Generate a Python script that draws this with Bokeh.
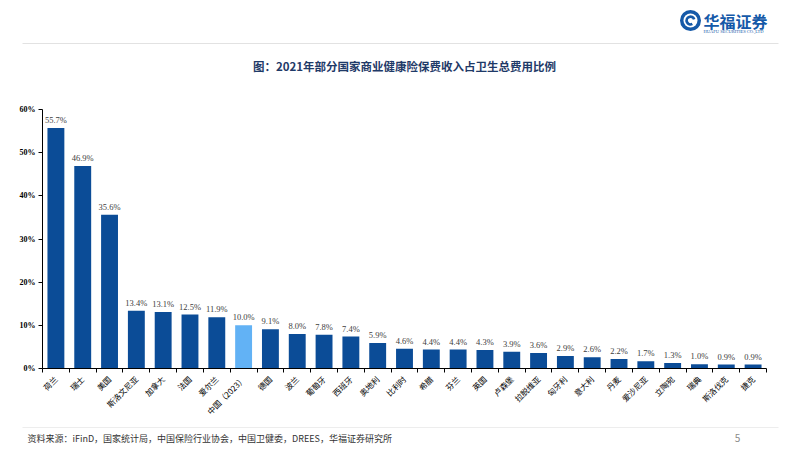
from bokeh.plotting import figure
from bokeh.models import Range1d, FixedTicker, PrintfTickFormatter, ColumnDataSource
from bokeh.core.properties import value
from bokeh.embed import file_html
from bokeh.resources import INLINE

countries = ["荷兰", "瑞士", "美国", "斯洛文尼亚", "加拿大", "法国", "爱尔兰", "中国（2023）",
             "德国", "波兰", "葡萄牙", "西班牙", "奥地利", "比利时", "希腊", "芬兰", "英国",
             "卢森堡", "拉脱维亚", "匈牙利", "意大利", "丹麦", "爱沙尼亚", "立陶宛", "瑞典",
             "斯洛伐克", "捷克"]
shares = [55.7, 46.9, 35.6, 13.4, 13.1, 12.5, 11.9, 10.0, 9.1, 8.0, 7.8, 7.4, 5.9, 4.6,
          4.4, 4.4, 4.3, 3.9, 3.6, 2.9, 2.6, 2.2, 1.7, 1.3, 1.0, 0.9, 0.9]
highlight = "中国（2023）"
y_ticks = [0, 10, 20, 30, 40, 50, 60]
title_text = "图：2021年部分国家商业健康险保费收入占卫生总费用比例"
source_text = "资料来源：iFinD，国家统计局，中国保险行业协会，中国卫健委，DREES，华福证券研究所"

DARK = "#0B4C97"
LIGHT = "#62B2F5"
CJK = "Noto Sans CJK SC"
SERIF = "Liberation Serif"

W = 802

def deco(h, y0, y1):
    f = figure(width=W, height=h, x_range=Range1d(0, W), y_range=Range1d(y1, y0),
               output_backend="svg", toolbar_location=None,
               x_axis_location=None, y_axis_location=None, min_border=0)
    f.grid.visible = False
    f.outline_line_color = None
    return f

# ---------- header ----------
hdr = deco(101, 0, 101)
# logo
hdr.circle(x=[690], y=[20], radius=10.5, fill_color="#1559A8", line_color=None)
hdr.circle(x=[690], y=[20], radius=7, fill_color="white", line_color=None)
hdr.annular_wedge(x=[690], y=[20], inner_radius=2.5, outer_radius=5.2,
                  start_angle=0.3, end_angle=5.2, fill_color="#1559A8", line_color=None)
hdr.text(x=[703], y=[20], text=["华福证券"], text_font=value(CJK), text_font_size="16px",
         text_font_style="bold", text_color="#1559A8", text_baseline="middle", text_align="left")
hdr.text(x=[703], y=[31], text=["HUAFU SECURITIES CO.,LTD"], text_font=value(SERIF),
         text_font_size="4.5px", text_color="#1559A8", text_baseline="middle", text_align="left")
hdr.segment(x0=[22], y0=[43], x1=[778], y1=[43], line_color="#e2e2e2", line_width=1)
hdr.text(x=[404], y=[65], text=[title_text], text_font=value(CJK), text_font_size="11.5px",
         text_font_style="bold", text_color="#1F3A68", text_baseline="middle", text_align="center")

# ---------- main chart ----------
n = len(countries)
xs = list(range(n))
colors = [LIGHT if c == highlight else DARK for c in countries]
labels = ["%.1f%%" % v for v in shares]
src = ColumnDataSource(dict(x=xs, top=shares, color=colors, label=labels))

p = figure(width=W, height=322, x_range=Range1d(-0.5, n - 0.5), y_range=Range1d(0, 60),
           output_backend="svg", toolbar_location=None,
           min_border_left=42, min_border_right=36, min_border_top=8, min_border_bottom=55)
p.grid.visible = False
p.outline_line_color = None
p.vbar(x="x", top="top", width=0.63, fill_color="color", line_color=None, source=src)
p.text(x="x", y="top", text="label", source=src, text_font=value(SERIF),
       text_font_size="8.5px", text_color="#404040", text_align="center",
       text_baseline="bottom", y_offset=-3)

p.yaxis.ticker = FixedTicker(ticks=y_ticks)
p.yaxis.formatter = PrintfTickFormatter(format="%d%%")
p.yaxis.major_label_text_font = SERIF
p.yaxis.major_label_text_font_style = "bold"
p.yaxis.major_label_text_font_size = "8px"
p.yaxis.major_label_text_color = "black"
p.yaxis.major_tick_out = 4
p.yaxis.major_tick_in = 0
p.yaxis.minor_tick_line_color = None
p.yaxis.axis_line_color = "black"
p.yaxis.major_tick_line_color = "black"
p.yaxis.major_label_standoff = 3

p.xaxis.ticker = FixedTicker(ticks=xs, minor_ticks=[i - 0.5 for i in range(n + 1)])
p.xaxis.major_label_overrides = {i: c for i, c in enumerate(countries)}
p.xaxis.major_label_orientation = 0.785
p.xaxis.major_label_text_font = CJK
p.xaxis.major_label_text_font_size = "8px"
p.xaxis.major_label_text_color = "black"
p.xaxis.major_tick_out = 0
p.xaxis.major_tick_in = 0
p.xaxis.minor_tick_out = 4
p.xaxis.minor_tick_in = 0
p.xaxis.minor_tick_line_color = "black"
p.xaxis.axis_line_color = "black"
p.xaxis.major_label_standoff = 5

# ---------- footer ----------
ftr = deco(29, 423, 452)
ftr.segment(x0=[22], y0=[427], x1=[778], y1=[427], line_color="#ededed", line_width=1)
ftr.text(x=[27], y=[438], text=[source_text], text_font=value(CJK), text_font_size="9px",
         text_color="#333333", text_baseline="middle", text_align="left")
ftr.text(x=[737], y=[437], text=["5"], text_font=value(CJK), text_font_size="10px",
         text_color="#8a8a8a", text_baseline="middle", text_align="center")

open("out.html", "w").write(file_html([hdr, p, ftr], INLINE))
